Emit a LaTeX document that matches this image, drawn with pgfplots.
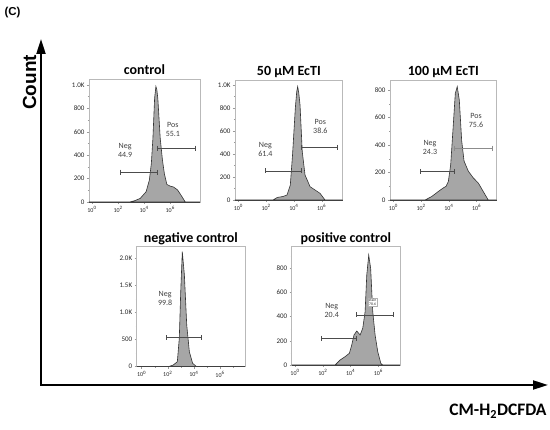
\documentclass[border=0pt]{standalone}
\usepackage{pgfplots}
\pgfplotsset{compat=1.18}
\usepackage{fontspec}
\setmainfont{Carlito}
\newfontfamily\arial{Liberation Sans}
\usetikzlibrary{arrows.meta}
\pgfplotsset{
  panel/.style={
    scale only axis, anchor=south west, clip=false,
    axis line style={draw=gray!55, line width=0.5pt},
    tick style={draw=gray!80, line width=0.4pt},
    major tick length=2pt, minor tick length=1pt, tick align=outside,
    xtick={0,2,4,6},
    xticklabels={10\textsuperscript{0},10\textsuperscript{2},10\textsuperscript{4},10\textsuperscript{6}},
    minor xtick={1,3,5,7},
    xtick pos=bottom, ytick pos=left,
    xticklabel style={font=\fontsize{6}{6.5}\selectfont, text=black!85, yshift=1pt},
    yticklabel style={font=\fontsize{7}{7.5}\selectfont, text=black!85, xshift=1pt},
    ymin=0,
  },
  hist/.style={fill=gray!70, draw=black!80, line width=0.6pt},
  base/.style={draw=black!75, line width=0.6pt},
  gate/.style={draw=black!70, line width=0.6pt, mark=|, mark size=2.5pt, mark options={solid, line width=0.6pt}},
}
\tikzset{gatelbl/.style={font=\fontsize{8}{9}\selectfont, text=black!75, align=center}}
\newcommand{\paneltitle}[1]{\node[font=\bfseries\fontsize{14}{14}\selectfont, anchor=base] at (rel axis cs:0.5,1) [yshift=4.5pt] {#1};}
\begin{document}
\begin{tikzpicture}
\path[use as bounding box] (0pt,0pt) rectangle (550pt,430pt);

% big frame axes
\draw[line width=2pt, -{Triangle[length=15pt,width=9pt]}] (41pt,44pt) -- (41pt,391pt);
\draw[line width=2pt, -{Triangle[length=15pt,width=9pt]}] (40pt,45pt) -- (548pt,45pt);
\node[font=\arial\bfseries\fontsize{11.5}{12}\selectfont] at (12.5pt,417.5pt) {(C)};
\node[font=\arial\bfseries\fontsize{19}{19}\selectfont, rotate=90] at (29.5pt,347.5pt) {Count};
\node[font=\bfseries\fontsize{17.5}{18}\selectfont, anchor=base] at (498pt,14.5pt) {CM-H\textsubscript{2}DCFDA};

% P1 control
\begin{axis}[panel, at={(89pt,228pt)}, width=111pt, height=123pt,
  xmin=-0.23, xmax=8.28, ymax=1050,
  ytick={0,200,400,600,800,1000}, yticklabels={0,200,400,600,800,1.0K},
  minor ytick={100,300,500,700,900}]
\addplot[hist] coordinates {(-0.23,0)(2.9,0)(3.3,12)(3.7,31)(4.15,88)(4.4,188)(4.55,330)(4.67,544)(4.8,886)(4.9,986)(4.97,960)(5.05,880)(5.23,544)(5.4,360)(5.55,240)(5.74,150)(6.0,135)(6.25,128)(6.56,103)(6.9,45)(7.15,0)(8.28,0)} \closedcycle;
\addplot[base] coordinates {(-0.23,0)(8.28,0)};
\addplot[gate] coordinates {(2.15,254)(4.97,254)};
\addplot[gate] coordinates {(4.97,459)(7.92,459)};
\node[gatelbl] at (axis cs:2.54,440) {Neg\\44.9};
\node[gatelbl] at (axis cs:6.2,615) {Pos\\55.1};
\paneltitle{control}
\end{axis}

% P2 50 uM
\begin{axis}[panel, at={(235pt,230pt)}, width=107.7pt, height=120pt,
  xmin=-0.24, xmax=7.51, ymax=1043,
  ytick={0,200,400,600,800,1000}, yticklabels={0,200,400,600,800,1.0K},
  minor ytick={100,300,500,700,900}]
\addplot[hist] coordinates {(-0.24,0)(2.5,0)(2.8,22)(3.2,30)(3.5,43)(3.74,130)(3.9,391)(4.1,797)(4.2,940)(4.27,986)(4.35,930)(4.44,826)(4.6,420)(4.8,217)(5.16,116)(5.52,87)(5.88,58)(6.24,0)(7.51,0)} \closedcycle;
\addplot[base] coordinates {(-0.24,0)(7.51,0)};
\addplot[gate] coordinates {(1.97,252)(4.5,252)};
\addplot[gate] coordinates {(4.5,458)(7.1,458)};
\node[gatelbl] at (axis cs:1.95,442) {Neg\\61.4};
\node[gatelbl] at (axis cs:5.9,636) {Pos\\38.6};
\paneltitle{50 µM EcTI}
\end{axis}

% P3 100 uM
\begin{axis}[panel, at={(390pt,230pt)}, width=106.7pt, height=120pt,
  xmin=-0.24, xmax=7.44, ymax=873,
  ytick={0,200,400,600,800}, yticklabels={0,200,400,600,800},
  minor ytick={100,300,500,700}]
\addplot[hist] coordinates {(-0.24,0)(2.28,0)(2.76,25)(3.24,62)(3.6,88)(3.8,100)(3.96,135)(4.13,258)(4.32,554)(4.46,775)(4.6,825)(4.75,726)(4.92,431)(5.09,283)(5.4,209)(5.76,160)(6.12,123)(6.47,62)(6.83,0)(7.44,0)} \closedcycle;
\addplot[base] coordinates {(-0.24,0)(7.44,0)};
\addplot[gate] coordinates {(1.92,209)(4.39,209)};
\addplot[gate, draw=black!45] coordinates {(4.39,377)(7.1,377)};
\node[gatelbl] at (axis cs:2.64,379) {Neg\\24.3};
\node[gatelbl] at (axis cs:5.95,576) {Pos\\75.6};
\paneltitle{100 µM EcTI}
\end{axis}

% P4 negative control
\begin{axis}[panel, at={(136.7pt,63.3pt)}, width=108.3pt, height=120pt,
  xmin=-0.38, xmax=7.91, ymax=2215,
  ytick={0,500,1000,1500,2000}, yticklabels={0,500,1.0K,1.5K,2.0K},
  minor ytick={250,750,1250,1750}]
\addplot[hist] coordinates {(-0.38,0)(2.04,0)(2.42,31)(2.73,92)(2.88,523)(2.99,1385)(3.11,2123)(3.27,1692)(3.45,769)(3.65,277)(3.9,62)(4.21,0)(7.91,0)} \closedcycle;
\addplot[base] coordinates {(-0.38,0)(7.91,0)};
\addplot[gate] coordinates {(1.91,535)(4.59,535)};
\node[gatelbl] at (axis cs:1.8,1253) {Neg\\99.8};
\paneltitle{negative control}
\end{axis}

% P5 positive control
\begin{axis}[panel, at={(291.7pt,65pt)}, width=108.3pt, height=118.3pt,
  xmin=-0.24, xmax=7.55, ymax=979,
  ytick={0,200,400,600,800}, yticklabels={0,200,400,600,800},
  minor ytick={100,300,500,700,900}]
\addplot[hist] coordinates {(-0.24,0)(2.88,0)(3.24,41)(3.6,69)(3.91,97)(4.08,166)(4.24,248)(4.44,281)(4.6,260)(4.68,248)(4.87,304)(5.04,441)(5.16,745)(5.3,910)(5.44,800)(5.59,441)(5.76,248)(5.95,110)(6.17,14)(6.3,0)(7.55,0)} \closedcycle;
\addplot[base] coordinates {(-0.24,0)(7.55,0)};
\addplot[gate] coordinates {(1.92,221)(4.39,221)};
\addplot[gate] coordinates {(4.39,414)(7.07,414)};
\node[gatelbl] at (axis cs:2.64,452) {Neg\\20.4};
\node[draw=gray!60, fill=white, inner sep=0.6pt, font=\fontsize{3.8}{4.2}\selectfont, text=black!80, align=center] at (axis cs:5.58,517) {stain\\78.6};
\paneltitle{positive control}
\end{axis}
\end{tikzpicture}
\end{document}
